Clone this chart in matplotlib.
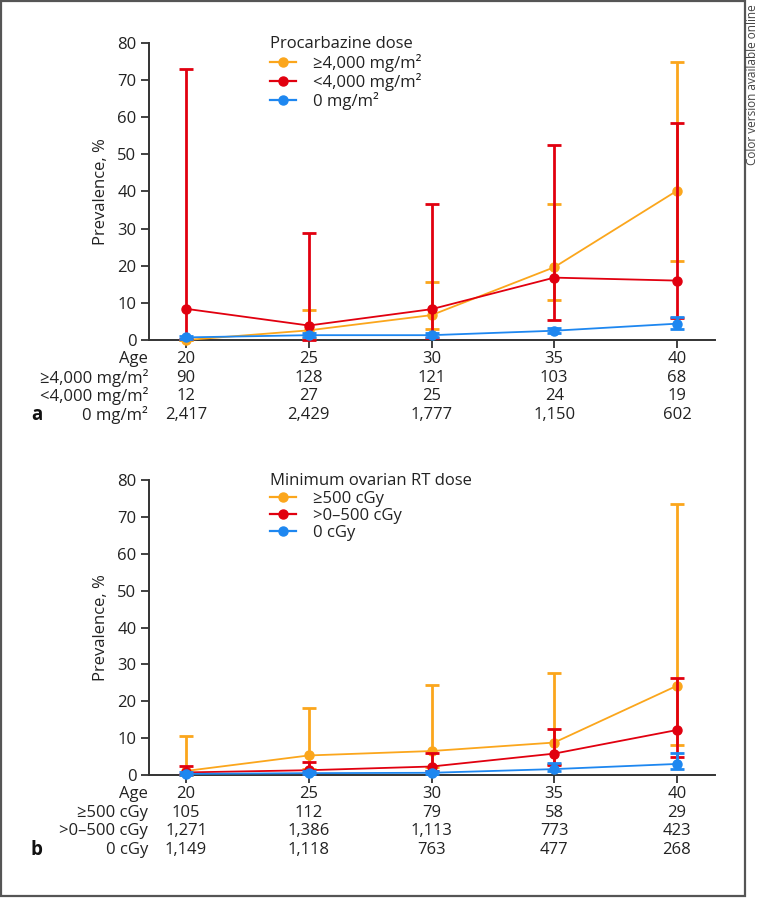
import matplotlib
matplotlib.use('Agg')
from matplotlib import pyplot as plt
from matplotlib.patches import Rectangle
from matplotlib.lines import Line2D
from matplotlib.transforms import blended_transform_factory

plt.rcParams['font.family'] = ['Open Sans', 'DejaVu Sans']

ages = [20, 25, 30, 35, 40]

# panel a: procarbazine dose
a_title = 'Procarbazine dose'
a_labels = ['≥4,000 mg/m²', '<4,000 mg/m²', '0 mg/m²']
a_prev = [[0.0, 2.6, 6.7, 19.6, 40.2],
          [8.4, 3.9, 8.3, 16.8, 16.0],
          [0.7, 1.3, 1.3, 2.5, 4.4]]
a_low = [[0.0, 0.5, 2.9, 10.7, 21.4],
         [0.2, 0.1, 0.5, 5.5, 6.0],
         [0.4, 0.9, 0.9, 1.8, 3.0]]
a_high = [[0.0, 8.0, 15.6, 36.6, 75.0],
          [73.0, 28.7, 36.7, 52.6, 58.4],
          [1.1, 1.8, 1.8, 3.3, 6.1]]
a_counts = [['90', '128', '121', '103', '68'],
            ['12', '27', '25', '24', '19'],
            ['2,417', '2,429', '1,777', '1,150', '602']]

# panel b: minimum ovarian RT dose
b_title = 'Minimum ovarian RT dose'
b_labels = ['≥500 cGy', '>0–500 cGy', '0 cGy']
b_prev = [[1.1, 5.3, 6.5, 8.8, 24.2],
          [0.7, 1.3, 2.3, 5.8, 12.2],
          [0.3, 0.5, 0.6, 1.6, 3.0]]
b_low = [[0.1, 1.5, 2.3, 3.0, 8.1],
         [0.2, 0.5, 1.0, 2.7, 5.0],
         [0.1, 0.2, 0.3, 1.0, 1.5]]
b_high = [[10.7, 18.1, 24.4, 27.6, 73.5],
          [2.4, 3.6, 6.0, 12.4, 26.2],
          [0.8, 1.0, 1.2, 3.2, 6.0]]
b_counts = [['105', '112', '79', '58', '29'],
            ['1,271', '1,386', '1,113', '773', '423'],
            ['1,149', '1,118', '763', '477', '268']]

colors = ['#FBA61C', '#E1000F', '#1E87F0']
fs = 12

fig = plt.figure(figsize=(7.61, 8.98), dpi=100)
W, H = 761, 898


def panel(top_px, bottom_px, prev, low, high, labels, title, counts, letter):
    ax = fig.add_axes([149 / W, 1 - bottom_px / H, 566 / W, (bottom_px - top_px) / H])
    for i in range(3):
        yerr = [[p - l for p, l in zip(prev[i], low[i])],
                [h - p for p, h in zip(prev[i], high[i])]]
        ax.errorbar(ages, prev[i], yerr=yerr, color=colors[i], lw=1.3,
                    elinewidth=2, capsize=5, capthick=2, marker='o',
                    markersize=6.5, zorder=3 + i, clip_on=False)
    ax.set_xlim(18.49, 41.55)
    ax.set_ylim(0, 80)
    ax.set_yticks(range(0, 81, 10))
    ax.set_xticks(ages)
    ax.set_xticklabels([])
    ax.spines['top'].set_visible(False)
    ax.spines['right'].set_visible(False)
    for s in ['left', 'bottom']:
        ax.spines[s].set_linewidth(1.4)
        ax.spines[s].set_color('#333333')
    ax.tick_params(axis='both', direction='out', length=6, width=1.3,
                   color='#333333', labelsize=fs, labelcolor='#222222')
    ax.tick_params(axis='y', pad=3)
    ax.set_ylabel('Prevalence, %', fontsize=fs, color='#222222', labelpad=6)
    handles = [Line2D([], [], color=c, lw=1.6, marker='o', markersize=6.5)
               for c in colors]
    leg = ax.legend(handles, labels, loc='upper left', bbox_to_anchor=(0.213, 1.023),
                    frameon=False, title=title, alignment='left', fontsize=fs,
                    title_fontsize=fs, handlelength=1.6, handletextpad=1.0,
                    labelspacing=0.08, borderpad=0, borderaxespad=0)
    for t in leg.get_texts():
        t.set_color('#222222')
    leg.get_title().set_color('#222222')

    # number-at-risk table under the axis
    tr = blended_transform_factory(ax.transData, ax.transAxes)
    h = bottom_px - top_px
    rows = [('Age', [str(a) for a in ages])] + list(zip(labels, counts))
    for r, (name, vals) in enumerate(rows):
        y = -(19 + 18.7 * r) / h
        ax.text(148 / W, 1 - (bottom_px + 19 + 18.7 * r) / H, name,
                transform=fig.transFigure, ha='right', va='center',
                fontsize=fs, color='#222222')
        for a, v in zip(ages, vals):
            ax.text(a, y, v, transform=tr, ha='center', va='center',
                    fontsize=fs, color='#222222')
    fig.text(37 / W, 1 - (bottom_px + 19 + 18.7 * 3) / H, letter,
             ha='center', va='center', fontsize=13.5, fontweight='bold',
             color='#111111')
    return ax


panel(43, 340, a_prev, a_low, a_high, a_labels, a_title, a_counts, 'a')
panel(480, 775, b_prev, b_low, b_high, b_labels, b_title, b_counts, 'b')

# outer frame and side note
fig.patches.append(Rectangle((1 / W, 2 / H), 744 / W, 895 / H, transform=fig.transFigure,
                             fill=False, edgecolor='#555555', lw=1.6))
fig.text(752 / W, 1 - 4 / H, 'Color version available online', rotation=90,
         ha='center', va='top', fontsize=8.5, color='#444444')

plt.savefig('out.png', dpi=100)
